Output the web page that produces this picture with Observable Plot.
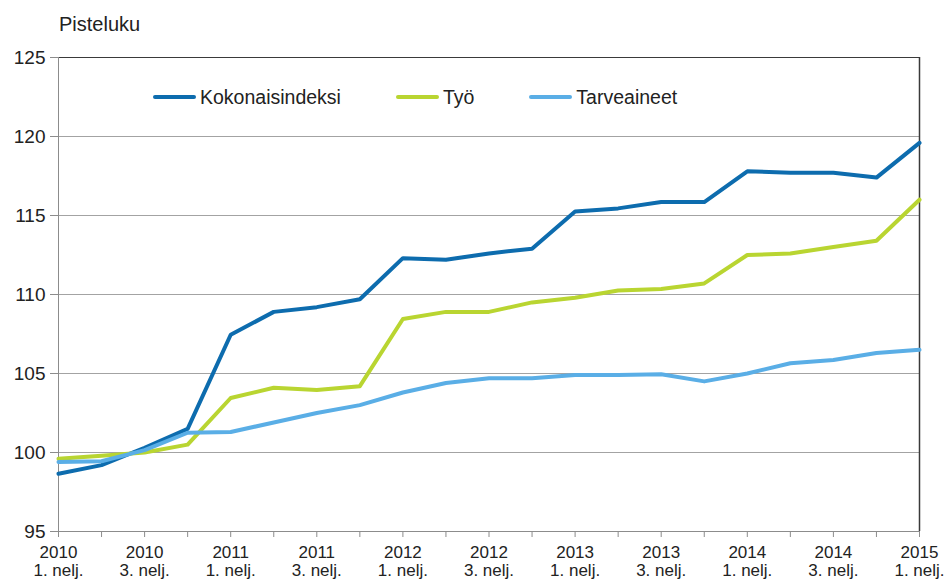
<!DOCTYPE html>
<html><head><meta charset="utf-8">
<script src="https://cdn.jsdelivr.net/npm/d3@7"></script>
<script src="https://cdn.jsdelivr.net/npm/@observablehq/plot@0.6"></script>
<style>
body{margin:0;background:#fff;font-family:"Liberation Sans",Arial,sans-serif;}
#wrap{position:relative;width:944px;height:581px;}
#ytitle{position:absolute;left:59px;top:14px;font-size:20px;line-height:20px;color:#222;}
#legend{position:absolute;left:153px;top:86px;display:flex;gap:55px;font-size:19.5px;line-height:22px;color:#222;}
.item{display:flex;align-items:center;}
.swatch{width:43px;height:4px;border-radius:2px;margin-right:4px;}
</style></head><body>
<div id="wrap"><div id="ytitle">Pisteluku</div><div id="legend"></div></div>
<script>
const quarterIndex = d3.range(21);
const xTickLabels = ["2010\n1. nelj.","2010\n3. nelj.","2011\n1. nelj.","2011\n3. nelj.","2012\n1. nelj.","2012\n3. nelj.","2013\n1. nelj.","2013\n3. nelj.","2014\n1. nelj.","2014\n3. nelj.","2015\n1. nelj."];
const yTicks = [95,100,105,110,115,120,125];
const gridValues = [100,105,110,115,120];

const seriesNames = ["Kokonaisindeksi","Työ","Tarveaineet"];
const seriesColors = ["#0d6cae","#b9d531","#5aaee6"];
const kokonaisindeksi = [98.65,99.2,100.3,101.5,107.45,108.9,109.2,109.7,112.3,112.2,112.6,112.9,115.25,115.45,115.85,115.85,117.8,117.7,117.7,117.4,119.6];
const tyo = [99.6,99.8,100.0,100.5,103.45,104.1,103.95,104.2,108.45,108.9,108.9,109.5,109.8,110.25,110.35,110.7,112.5,112.6,113.0,113.4,116.0];
const tarveaineet = [99.4,99.45,100.15,101.25,101.3,101.9,102.5,103.0,103.8,104.4,104.7,104.7,104.9,104.9,104.95,104.5,105.0,105.65,105.85,106.3,106.5];

const seriesValues = [kokonaisindeksi, tyo, tarveaineet];
const rows = [];
seriesNames.forEach((name, k) => seriesValues[k].forEach((v, i) => rows.push({i, v, name})));

const chart = Plot.plot({
  width: 944, height: 581,
  marginLeft: 58, marginRight: 25, marginTop: 57, marginBottom: 50,
  style: {fontFamily: '"Liberation Sans", Arial, sans-serif', color: "#222", background: "transparent", overflow: "visible"},
  x: {domain: [0, 20], label: null},
  y: {domain: [95, 125], label: null},
  color: {domain: seriesNames, range: seriesColors},
  marks: [
    Plot.ruleY(gridValues, {stroke: "#a3a3a3", strokeWidth: 1}),
    Plot.ruleY([125], {stroke: "#3a3a3a", strokeWidth: 1.2}),
    Plot.ruleY([95], {stroke: "#8c8c8c", strokeWidth: 1}),
    Plot.ruleX([0], {stroke: "#8c8c8c", strokeWidth: 1}),
    Plot.ruleX([20], {stroke: "#3a3a3a", strokeWidth: 1.5}),
    Plot.axisY({ticks: yTicks, tickSize: 8, tickPadding: 5, stroke: "#8c8c8c", fontSize: 19, label: null, tickFormat: d => String(d)}),
    Plot.axisX({ticks: quarterIndex, tickSize: 6, tickPadding: 8, stroke: "#8c8c8c", fontSize: 17, lineHeight: 1.05, label: null,
      tickFormat: i => (i % 2 === 0 ? xTickLabels[i / 2] : "")}),
    Plot.line(rows, {x: "i", y: "v", z: "name", stroke: "name", strokeWidth: 4, strokeLinejoin: "round", strokeLinecap: "round"})
  ]
});
document.getElementById("wrap").prepend(chart);
chart.style.position = "absolute";
chart.style.left = "0";
chart.style.top = "0";

const legend = document.getElementById("legend");
seriesNames.forEach((name, k) => {
  const it = document.createElement("div");
  it.className = "item";
  const sw = document.createElement("div");
  sw.className = "swatch";
  sw.style.background = seriesColors[k];
  const tx = document.createElement("span");
  tx.textContent = name;
  it.append(sw, tx);
  legend.append(it);
});
</script>
</body></html>
